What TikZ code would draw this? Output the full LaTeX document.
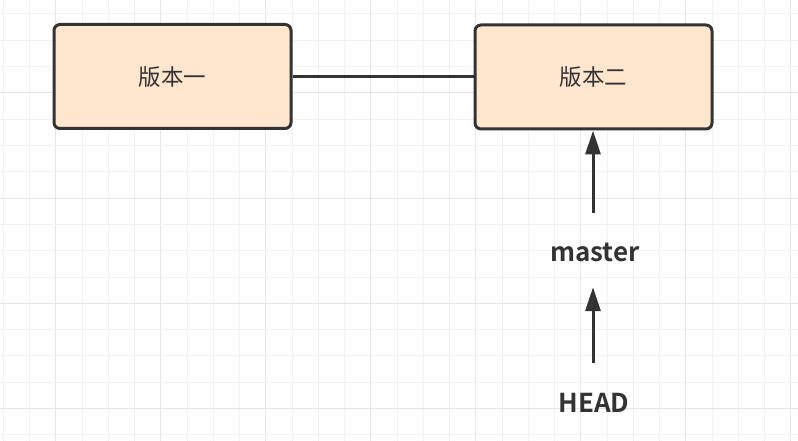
\documentclass[tikz,border=0pt]{standalone}
\usepackage{fontspec}
\setmainfont{Noto Sans CJK SC}
\newfontfamily\cjkfont{Noto Sans CJK SC}
\newfontfamily\boldlbl{Noto Sans CJK SC Bold}
\usetikzlibrary{arrows.meta}
\definecolor{gridminor}{HTML}{F3F1F3}
\definecolor{gridmajor}{HTML}{E7E5E7}
\definecolor{boxfill}{HTML}{FEE6CF}
\definecolor{ink}{HTML}{333333}
\tikzset{
  verbox/.style={draw=ink, line width=3pt, rounded corners=6pt, fill=boxfill,
    minimum width=237pt, minimum height=104pt, inner sep=0pt,
    font=\cjkfont\fontsize{22.5}{26}\selectfont, text=ink},
  reflbl/.style={font=\boldlbl\fontsize{26}{29}\selectfont, text=ink, inner sep=0pt},
  link/.style={draw=ink, line width=3pt},
  ptr/.style={draw=ink, line width=3pt, -{Triangle[length=24pt,width=15pt]}}
}
\begin{document}
\begin{tikzpicture}[x=1pt,y=-1pt]
\useasboundingbox (0,0) rectangle (798,441);
\fill[white] (0,0) rectangle (798,441);
% grid
\foreach \i in {0,...,30} {
  \pgfmathsetmacro\xx{3.3+26.25*\i}
  \pgfmathtruncatemacro\m{mod(\i,4)}
  \ifnum\m=2
    \draw[gridmajor, line width=1pt] (\xx,0) -- (\xx,441);
  \else
    \draw[gridminor, line width=1pt] (\xx,0) -- (\xx,441);
  \fi
}
\foreach \j in {0,...,16} {
  \pgfmathsetmacro\yy{14+26.3*\j}
  \pgfmathtruncatemacro\m{mod(\j,4)}
  \ifnum\m=3
    \draw[gridmajor, line width=1pt] (0,\yy) -- (798,\yy);
  \else
    \draw[gridminor, line width=1pt] (0,\yy) -- (798,\yy);
  \fi
}
\node[verbox] (v1) at (172.5,76.5) {版本一};
\node[verbox] (v2) at (593.5,77) {版本二};
\draw[link] (v1.east |- 0,77) -- (v2.west);
\node[reflbl, minimum height=78pt] (master) at (595,252) {master};
\node[reflbl, minimum height=80pt] (head) at (594,403) {HEAD};
\draw[ptr] (master.north -| 593,0) -- (v2.south -| 593,0);
\draw[ptr, shorten >=-4pt] (head.north -| 593,0) -- (master.south -| 593,0);
\end{tikzpicture}
\end{document}
